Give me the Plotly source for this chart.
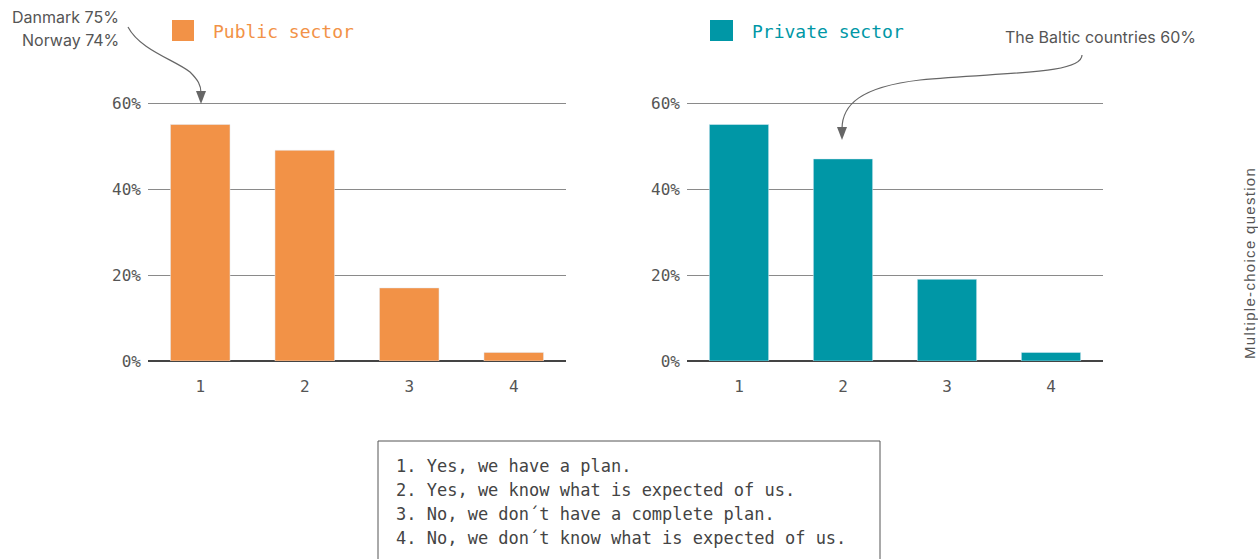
import plotly.graph_objects as go

categories = ["1", "2", "3", "4"]
public_values = [55, 49, 17, 2]
private_values = [55, 47, 19, 2]
y_ticks = [0, 20, 40, 60]
y_tick_labels = ["0%", "20%", "40%", "60%"]
answers = [
    "1. Yes, we have a plan.",
    "2. Yes, we know what is expected of us.",
    "3. No, we don\u00b4t have a complete plan.",
    "4. No, we don\u00b4t know what is expected of us.",
]

W, H = 1258, 559
ORANGE = "#F29247"
TEAL = "#0097A6"
GREY = "#555555"
MONO = "DejaVu Sans Mono"
SANS = "Inter"


def px(x):
    return x / W


def py(y):
    return 1 - y / H


fig = go.Figure()
fig.add_trace(go.Bar(x=categories, y=public_values, marker_color=ORANGE,
                     width=0.57, xaxis="x", yaxis="y", showlegend=False))
fig.add_trace(go.Bar(x=categories, y=private_values, marker_color=TEAL,
                     width=0.57, xaxis="x2", yaxis="y2", showlegend=False))

YMAX = 61
top_px = 361 - (361 - 103) * YMAX / 60
xcommon = dict(type="category", showgrid=False, zeroline=False, showline=False,
               ticks="", tickfont=dict(family=MONO, size=16, color=GREY),
               ticklabelstandoff=14, range=[-0.5, 3.5], automargin=False)
ycommon = dict(range=[0, YMAX], tickvals=y_ticks, ticktext=y_tick_labels,
               showgrid=True, gridcolor="#8a8a8a", gridwidth=1,
               zeroline=True, zerolinecolor="#444444", zerolinewidth=1.5,
               showline=False, ticks="", ticklabelstandoff=6, automargin=False,
               tickfont=dict(family=MONO, size=16, color=GREY),
               domain=[py(361), py(top_px)])

fig.update_layout(
    width=W, height=H, autosize=False,
    margin=dict(l=0, r=0, t=0, b=0, pad=0, autoexpand=False),
    paper_bgcolor="white", plot_bgcolor="white",
    xaxis=dict(xcommon, domain=[px(148), px(566)], anchor="y"),
    yaxis=dict(ycommon, anchor="x"),
    xaxis2=dict(xcommon, domain=[px(687), px(1103)], anchor="y2"),
    yaxis2=dict(ycommon, anchor="x2"),
)


def P(x, y):
    return f"{px(x):.5f},{py(y):.5f}"


shapes = []
shapes.append(dict(type="rect", xref="paper", yref="paper",
                   x0=px(172), x1=px(194), y0=py(41), y1=py(20),
                   fillcolor=ORANGE, line=dict(width=0)))
shapes.append(dict(type="rect", xref="paper", yref="paper",
                   x0=px(710), x1=px(733), y0=py(41), y1=py(20),
                   fillcolor=TEAL, line=dict(width=0)))
# curved arrow 1
shapes.append(dict(type="path", xref="paper", yref="paper",
                   path=f"M {P(128,27)} C {P(140,50)} {P(175,60)} {P(190,72)} C {P(198,80)} {P(201,85)} {P(201,93)}",
                   line=dict(color="#666666", width=1.2)))
shapes.append(dict(type="path", xref="paper", yref="paper",
                   path=f"M {P(196,91)} L {P(206,91)} L {P(201,104)} Z",
                   fillcolor="#666666", line=dict(width=0)))
# curved arrow 2
shapes.append(dict(type="path", xref="paper", yref="paper",
                   path=f"M {P(1082,55)} C {P(1082,75)} {P(1000,72)} {P(920,80)} C {P(860,87)} {P(842,105)} {P(842,129)}",
                   line=dict(color="#666666", width=1.2)))
shapes.append(dict(type="path", xref="paper", yref="paper",
                   path=f"M {P(837,127)} L {P(847,127)} L {P(842,140)} Z",
                   fillcolor="#666666", line=dict(width=0)))
# answer box
shapes.append(dict(type="rect", xref="paper", yref="paper",
                   x0=px(378), x1=px(880), y0=py(575), y1=py(441),
                   line=dict(color="#555555", width=1), fillcolor="rgba(0,0,0,0)"))
fig.update_layout(shapes=shapes)

ann = []
ann.append(dict(text="Public sector", x=px(211), y=py(31), xref="paper", yref="paper",
                xanchor="left", yanchor="middle", showarrow=False,
                font=dict(family=MONO, size=18, color=ORANGE)))
ann.append(dict(text="Private sector", x=px(750), y=py(31), xref="paper", yref="paper",
                xanchor="left", yanchor="middle", showarrow=False,
                font=dict(family=MONO, size=18, color=TEAL)))
ann.append(dict(text="Danmark 75%", x=px(121), y=py(17), xref="paper", yref="paper",
                xanchor="right", yanchor="middle", showarrow=False,
                font=dict(family=SANS, size=16, color=GREY)))
ann.append(dict(text="Norway 74%", x=px(121), y=py(40), xref="paper", yref="paper",
                xanchor="right", yanchor="middle", showarrow=False,
                font=dict(family=SANS, size=16, color=GREY)))
ann.append(dict(text="The Baltic countries 60%", x=px(1198), y=py(37), xref="paper", yref="paper",
                xanchor="right", yanchor="middle", showarrow=False,
                font=dict(family=SANS, size=16, color=GREY)))
ann.append(dict(text='<span style="letter-spacing:1.3px">Multiple-choice question</span>',
                x=px(1249), y=py(263), xref="paper", yref="paper",
                xanchor="center", yanchor="middle", showarrow=False, textangle=-90,
                font=dict(family="Liberation Sans", size=15, color=GREY)))
for i, line in enumerate(answers):
    ann.append(dict(text=line, x=px(394), y=py(466 + 24 * i), xref="paper", yref="paper",
                    xanchor="left", yanchor="middle", showarrow=False,
                    font=dict(family=MONO, size=17, color="#444444")))
fig.update_layout(annotations=ann)

fig.write_html("out.html")
